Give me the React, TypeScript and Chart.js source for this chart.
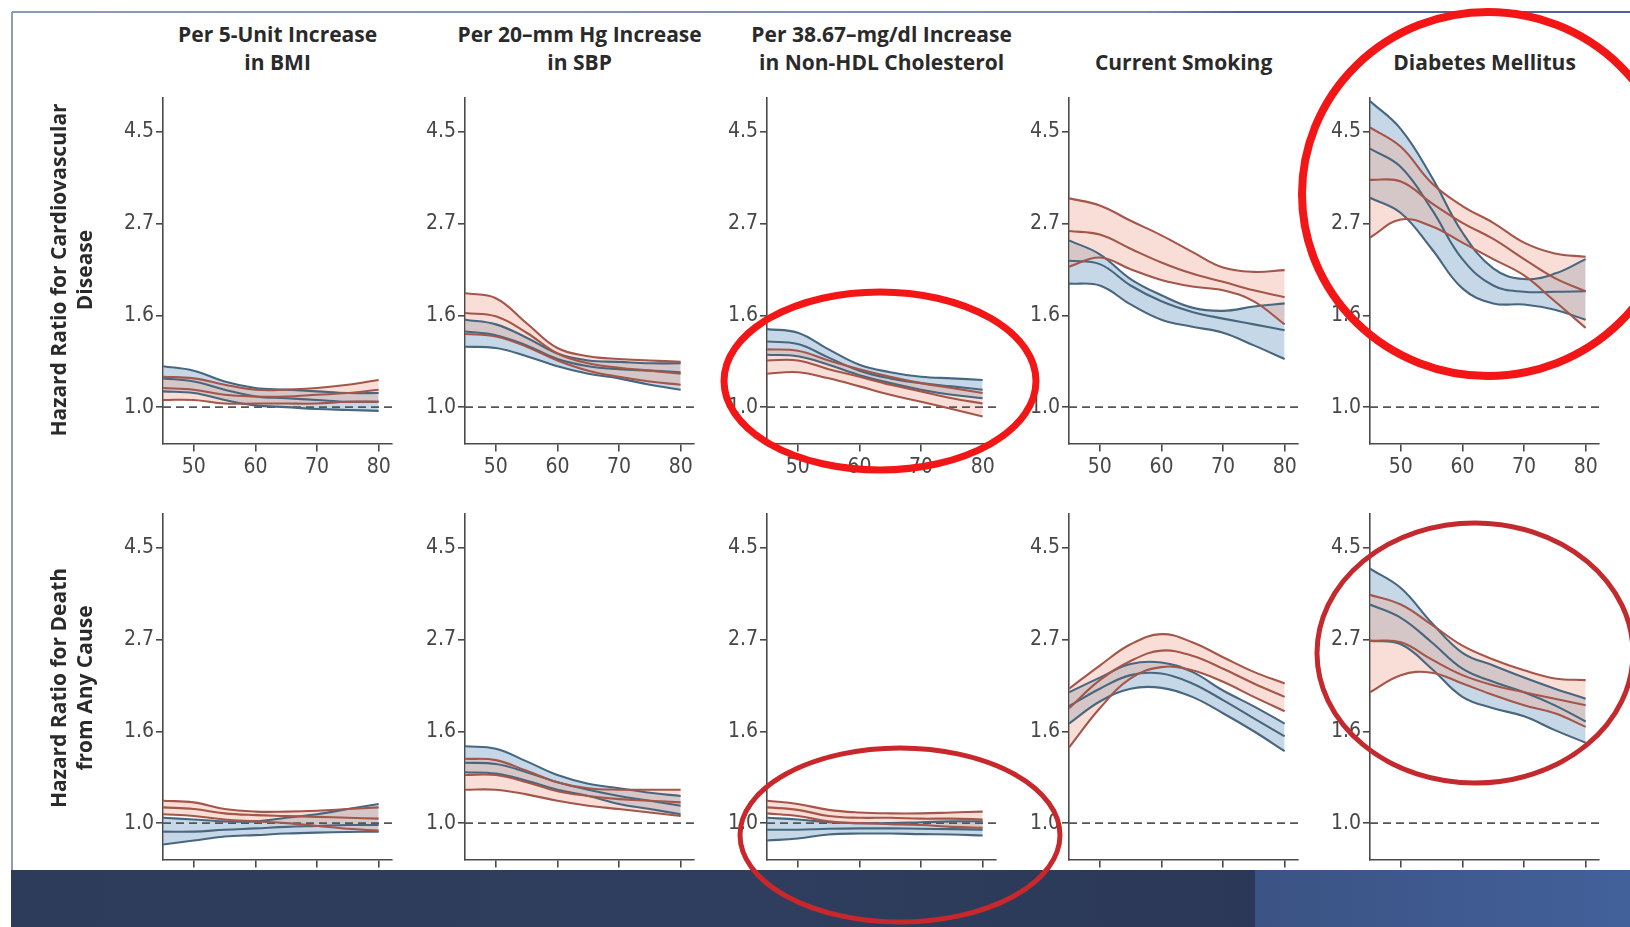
import React, { useEffect, useRef } from "react";
import { Chart, registerables } from "chart.js";
Chart.register(...registerables);

// ---------- data ----------
const ages = [45, 50, 55, 60, 65, 70, 75, 80];
const xTickValues = [50, 60, 70, 80];
const yTickValues = [1.0, Math.exp(0.5), Math.exp(1), Math.exp(1.5)];
const yTickLabels = ["1.0", "1.6", "2.7", "4.5"];

const columnTitles = [
  ["Per 5-Unit Increase", "in BMI"],
  ["Per 20–mm Hg Increase", "in SBP"],
  ["Per 38.67–mg/dl Increase", "in Non-HDL Cholesterol"],
  ["Current Smoking"],
  ["Diabetes Mellitus"],
];
const rowTitles = [
  ["Hazard Ratio for Cardiovascular", "Disease"],
  ["Hazard Ratio for Death", "from Any Cause"],
];

// Row 1: cardiovascular disease
const cvdBmiBlueHi = [1.25, 1.22, 1.15, 1.11, 1.1, 1.09, 1.08, 1.08];
const cvdBmiBlueMid = [1.17, 1.15, 1.1, 1.06, 1.05, 1.04, 1.03, 1.03];
const cvdBmiBlueLo = [1.09, 1.08, 1.04, 1.01, 1.0, 0.99, 0.985, 0.98];
const cvdBmiRedHi = [1.18, 1.17, 1.13, 1.1, 1.1, 1.11, 1.13, 1.16];
const cvdBmiRedMid = [1.11, 1.1, 1.07, 1.06, 1.06, 1.07, 1.08, 1.1];
const cvdBmiRedLo = [1.04, 1.04, 1.02, 1.02, 1.02, 1.02, 1.03, 1.03];

const cvdSbpBlueHi = [1.61, 1.57, 1.46, 1.34, 1.29, 1.28, 1.27, 1.27];
const cvdSbpBlueMid = [1.51, 1.48, 1.4, 1.3, 1.25, 1.23, 1.22, 1.21];
const cvdSbpBlueLo = [1.39, 1.38, 1.32, 1.25, 1.2, 1.17, 1.13, 1.1];
const cvdSbpRedHi = [1.86, 1.81, 1.58, 1.38, 1.32, 1.3, 1.29, 1.28];
const cvdSbpRedMid = [1.67, 1.64, 1.5, 1.34, 1.27, 1.24, 1.22, 1.2];
const cvdSbpRedLo = [1.49, 1.47, 1.39, 1.29, 1.22, 1.18, 1.15, 1.13];

const cvdHdlBlueHi = [1.53, 1.5, 1.37, 1.26, 1.21, 1.18, 1.17, 1.16];
const cvdHdlBlueMid = [1.43, 1.41, 1.31, 1.22, 1.17, 1.14, 1.12, 1.1];
const cvdHdlBlueLo = [1.33, 1.32, 1.26, 1.19, 1.14, 1.1, 1.07, 1.05];
const cvdHdlRedHi = [1.37, 1.36, 1.29, 1.23, 1.18, 1.14, 1.11, 1.08];
const cvdHdlRedMid = [1.29, 1.29, 1.23, 1.18, 1.13, 1.09, 1.05, 1.02];
const cvdHdlRedLo = [1.2, 1.21, 1.17, 1.12, 1.07, 1.03, 0.99, 0.95];

const cvdSmokeBlueHi = [2.48, 2.3, 2.01, 1.84, 1.72, 1.69, 1.73, 1.76];
const cvdSmokeBlueMid = [2.22, 2.18, 1.94, 1.78, 1.68, 1.62, 1.57, 1.52];
const cvdSmokeBlueLo = [1.96, 1.94, 1.75, 1.61, 1.55, 1.5, 1.4, 1.3];
const cvdSmokeRedHi = [3.12, 3.0, 2.76, 2.55, 2.33, 2.14, 2.09, 2.11];
const cvdSmokeRedMid = [2.61, 2.56, 2.37, 2.2, 2.07, 1.98, 1.89, 1.82];
const cvdSmokeRedLo = [2.15, 2.26, 2.12, 2.0, 1.93, 1.89, 1.78, 1.57];

const cvdDmBlueHi = [5.3, 4.55, 3.51, 2.59, 2.13, 2.01, 2.07, 2.24];
const cvdDmBlueMid = [4.09, 3.7, 2.94, 2.24, 1.94, 1.875, 1.875, 1.88];
const cvdDmBlueLo = [3.13, 2.88, 2.37, 1.91, 1.76, 1.75, 1.7, 1.61];
const cvdDmRedHi = [4.59, 4.13, 3.39, 2.99, 2.73, 2.45, 2.31, 2.27];
const cvdDmRedMid = [3.45, 3.42, 3.04, 2.73, 2.5, 2.24, 2.02, 1.88];
const cvdDmRedLo = [2.52, 2.78, 2.68, 2.45, 2.24, 2.05, 1.78, 1.54];

// Row 2: death from any cause
const deathBmiBlueHi = [1.03, 1.02, 1.01, 1.01, 1.03, 1.05, 1.08, 1.11];
const deathBmiBlueMid = [0.955, 0.955, 0.965, 0.972, 0.98, 0.985, 0.99, 0.99];
const deathBmiBlueLo = [0.89, 0.91, 0.93, 0.937, 0.945, 0.95, 0.953, 0.955];
const deathBmiRedHi = [1.13, 1.12, 1.08, 1.065, 1.065, 1.07, 1.08, 1.09];
const deathBmiRedMid = [1.09, 1.08, 1.055, 1.045, 1.04, 1.035, 1.03, 1.025];
const deathBmiRedLo = [1.05, 1.04, 1.02, 1.01, 1.0, 0.985, 0.97, 0.96];

const deathSbpBlueHi = [1.52, 1.5, 1.4, 1.3, 1.24, 1.21, 1.18, 1.16];
const deathSbpBlueMid = [1.39, 1.38, 1.32, 1.25, 1.2, 1.16, 1.13, 1.1];
const deathSbpBlueLo = [1.32, 1.31, 1.26, 1.2, 1.16, 1.11, 1.08, 1.05];
const deathSbpRedHi = [1.42, 1.41, 1.33, 1.25, 1.21, 1.2, 1.2, 1.2];
const deathSbpRedMid = [1.3, 1.3, 1.25, 1.19, 1.16, 1.14, 1.13, 1.12];
const deathSbpRedLo = [1.2, 1.2, 1.17, 1.13, 1.1, 1.08, 1.06, 1.04];

const deathHdlBlueHi = [1.03, 1.02, 1.005, 1.0, 1.0, 1.005, 1.01, 1.01];
const deathHdlBlueMid = [0.965, 0.965, 0.97, 0.972, 0.972, 0.97, 0.968, 0.965];
const deathHdlBlueLo = [0.91, 0.92, 0.94, 0.945, 0.945, 0.942, 0.94, 0.935];
const deathHdlRedHi = [1.13, 1.11, 1.075, 1.06, 1.055, 1.055, 1.06, 1.065];
const deathHdlRedMid = [1.09, 1.075, 1.04, 1.03, 1.03, 1.025, 1.025, 1.02];
const deathHdlRedLo = [1.055, 1.04, 1.01, 1.0, 0.995, 0.99, 0.98, 0.975];

const deathSmokeBlueHi = [2.04, 2.21, 2.38, 2.4, 2.28, 2.06, 1.89, 1.72];
const deathSmokeBlueMid = [1.89, 2.08, 2.24, 2.26, 2.14, 1.955, 1.77, 1.605];
const deathSmokeBlueLo = [1.72, 1.94, 2.08, 2.09, 1.99, 1.82, 1.65, 1.48];
const deathSmokeRedHi = [2.08, 2.36, 2.65, 2.8, 2.68, 2.47, 2.28, 2.14];
const deathSmokeRedMid = [1.87, 2.18, 2.42, 2.56, 2.49, 2.32, 2.14, 1.99];
const deathSmokeRedLo = [1.51, 1.87, 2.2, 2.34, 2.3, 2.16, 1.99, 1.84];

const deathDmBlueHi = [4.0, 3.6, 2.98, 2.53, 2.36, 2.21, 2.08, 1.97];
const deathDmBlueMid = [3.29, 3.06, 2.68, 2.32, 2.16, 2.04, 1.9, 1.74];
const deathDmBlueLo = [2.7, 2.65, 2.32, 1.99, 1.87, 1.79, 1.66, 1.55];
const deathDmRedHi = [3.47, 3.29, 2.95, 2.63, 2.44, 2.3, 2.2, 2.18];
const deathDmRedMid = [2.7, 2.68, 2.44, 2.24, 2.12, 2.04, 1.97, 1.9];
const deathDmRedLo = [2.04, 2.24, 2.27, 2.14, 2.01, 1.9, 1.82, 1.69];

const panelSeries = [
  [
    { blue: [cvdBmiBlueHi, cvdBmiBlueMid, cvdBmiBlueLo], red: [cvdBmiRedHi, cvdBmiRedMid, cvdBmiRedLo] },
    { blue: [cvdSbpBlueHi, cvdSbpBlueMid, cvdSbpBlueLo], red: [cvdSbpRedHi, cvdSbpRedMid, cvdSbpRedLo] },
    { blue: [cvdHdlBlueHi, cvdHdlBlueMid, cvdHdlBlueLo], red: [cvdHdlRedHi, cvdHdlRedMid, cvdHdlRedLo] },
    { blue: [cvdSmokeBlueHi, cvdSmokeBlueMid, cvdSmokeBlueLo], red: [cvdSmokeRedHi, cvdSmokeRedMid, cvdSmokeRedLo] },
    { blue: [cvdDmBlueHi, cvdDmBlueMid, cvdDmBlueLo], red: [cvdDmRedHi, cvdDmRedMid, cvdDmRedLo] },
  ],
  [
    { blue: [deathBmiBlueHi, deathBmiBlueMid, deathBmiBlueLo], red: [deathBmiRedHi, deathBmiRedMid, deathBmiRedLo] },
    { blue: [deathSbpBlueHi, deathSbpBlueMid, deathSbpBlueLo], red: [deathSbpRedHi, deathSbpRedMid, deathSbpRedLo] },
    { blue: [deathHdlBlueHi, deathHdlBlueMid, deathHdlBlueLo], red: [deathHdlRedHi, deathHdlRedMid, deathHdlRedLo] },
    { blue: [deathSmokeBlueHi, deathSmokeBlueMid, deathSmokeBlueLo], red: [deathSmokeRedHi, deathSmokeRedMid, deathSmokeRedLo] },
    { blue: [deathDmBlueHi, deathDmBlueMid, deathDmBlueLo], red: [deathDmRedHi, deathDmRedMid, deathDmRedLo] },
  ],
];

// ---------- styling / layout ----------
const BLUE = "#48677f";
const BLUE_FILL = "rgba(128,168,205,0.45)";
const RED = "#a4564a";
const RED_FILL = "rgba(236,168,148,0.38)";
const AXIS = "#4a4a4a";
const TICK = "#474747";
const TICK_FONT = "'Liberation Sans Narrow', 'DejaVu Sans Condensed', Roboto, sans-serif";
const TITLE_FONT = "'Open Sans', 'Noto Sans', sans-serif";

const AXIS_X = [163, 465, 767, 1069, 1370];
const PLOT_TOP = [93.3, 509.3];
const PLOT_W = 229.2;
const PLOT_H = 350.6;
const Y_W = 70;
const PAD_T = 10;
const CW = 316;
const CH = 406;

function Panel({ row, col }: { row: number; col: number }) {
  const ref = useRef<HTMLCanvasElement>(null);
  useEffect(() => {
    const s = panelSeries[row][col];
    const pts = (arr: number[]) => ages.map((a, i) => ({ x: a, y: arr[i] }));
    const line = (arr: number[], color: string, fillColor?: string) => ({
      data: pts(arr),
      borderColor: color,
      borderWidth: 2.1,
      pointRadius: 0,
      tension: 0.4,
      fill: fillColor ? { target: "+2" } : false,
      backgroundColor: fillColor || "transparent",
    });
    const chart = new Chart(ref.current!, {
      type: "line",
      data: {
        datasets: [
          line(s.red[0], RED, RED_FILL),
          line(s.red[1], RED),
          line(s.red[2], RED),
          line(s.blue[0], BLUE, BLUE_FILL),
          line(s.blue[1], BLUE),
          line(s.blue[2], BLUE),
          {
            data: [{ x: 45, y: 1 }, { x: 82.2, y: 1 }],
            borderColor: "#555",
            borderDash: [8, 5],
            borderWidth: 1.7,
            pointRadius: 0,
            fill: false,
          },
        ] as any,
      },
      options: {
        animation: false,
        responsive: false,
        maintainAspectRatio: false,
        layout: {
          padding: { left: 0, top: PAD_T, right: CW - Y_W - PLOT_W, bottom: 0 },
          autoPadding: false,
        } as any,
        plugins: {
          legend: { display: false },
          tooltip: { enabled: false },
          filler: { drawTime: "beforeDatasetsDraw" },
        } as any,
        scales: {
          x: {
            type: "linear",
            min: 45,
            max: 82.2,
            border: { display: true, color: AXIS, width: 1.6 },
            grid: { display: true, drawOnChartArea: false, drawTicks: true, tickLength: 8, color: AXIS, lineWidth: 1.6 },
            ticks: { autoSkip: false, maxRotation: 0, padding: 3, color: TICK, font: { family: TICK_FONT, size: 21 } },
            afterBuildTicks: (sc: any) => {
              sc.ticks = xTickValues.map((v) => ({ value: v }));
            },
            afterFit: (sc: any) => {
              sc.height = CH - PAD_T - PLOT_H;
            },
          },
          y: {
            type: "logarithmic",
            min: 0.82,
            max: 5.4,
            border: { display: true, color: AXIS, width: 1.6 },
            grid: { display: true, drawOnChartArea: false, drawTicks: true, tickLength: 7, color: AXIS, lineWidth: 1.6 },
            ticks: {
              autoSkip: false,
              padding: 2,
              color: TICK,
              font: { family: TICK_FONT, size: 21 },
              callback: (_v: any, i: number) => yTickLabels[i],
            },
            afterBuildTicks: (sc: any) => {
              sc.ticks = yTickValues.map((v) => ({ value: v }));
            },
            afterFit: (sc: any) => {
              sc.width = Y_W;
            },
          },
        } as any,
      },
    });
    return () => chart.destroy();
  }, [row, col]);
  return (
    <canvas
      ref={ref}
      width={CW}
      height={CH}
      style={{ position: "absolute", left: AXIS_X[col] - Y_W, top: PLOT_TOP[row] - PAD_T, width: CW, height: CH }}
    />
  );
}

export default function App() {
  const panels = [];
  for (let r = 0; r < 2; r++) for (let c = 0; c < 5; c++) panels.push(<Panel key={r + "-" + c} row={r} col={c} />);
  return (
    <div style={{ position: "absolute", left: 0, top: 0, width: 1630, height: 927, overflow: "hidden", background: "#fff" }}>
      {/* slide frame */}
      <div style={{ position: "absolute", left: 12, top: 11, width: 1618, height: 2, background: "linear-gradient(90deg,#8a9aba,#7a8cb0 70%,#4f6490 76%,#4f6490)" }} />
      <div style={{ position: "absolute", left: 11, top: 12, width: 2, height: 860, background: "#8c9cc0" }} />
      {panels}
      {columnTitles.map((t, c) => (
        <div
          key={"ct" + c}
          style={{
            position: "absolute",
            left: AXIS_X[c] + PLOT_W / 2 - 160,
            width: 320,
            top: t.length === 2 ? 20 : 48,
            textAlign: "center",
            fontFamily: TITLE_FONT,
            fontWeight: 700,
            fontSize: 21,
            lineHeight: "28px",
            color: "#2a2a2a",
            whiteSpace: "nowrap",
          }}
        >
          {t.map((l, i) => (
            <div key={i}>{l}</div>
          ))}
        </div>
      ))}
      {rowTitles.map((t, r) => (
        <div
          key={"rt" + r}
          style={{
            position: "absolute",
            left: 71 - 200,
            top: (r === 0 ? 270 : 688) - 26,
            width: 400,
            height: 52,
            transform: "rotate(-90deg)",
            transformOrigin: "50% 50%",
            textAlign: "center",
            fontFamily: TITLE_FONT,
            fontWeight: 700,
            fontSize: 21,
            lineHeight: "26px",
            color: "#2a2a2a",
            whiteSpace: "nowrap",
          }}
        >
          {t.map((l, i) => (
            <div key={i}>{l}</div>
          ))}
        </div>
      ))}
      {/* bottom band */}
      <div style={{ position: "absolute", left: 11, top: 870, width: 1244, height: 57, background: "linear-gradient(90deg,#2e3c5b,#2f3e5e 60%,#2b3857)" }} />
      <div style={{ position: "absolute", left: 1255, top: 870, width: 375, height: 57, background: "linear-gradient(90deg,#3b5384,#42609a)" }} />
      {/* hand-drawn annotation ellipses */}
      <svg width={1630} height={927} style={{ position: "absolute", left: 0, top: 0, pointerEvents: "none" }}>
        <ellipse cx={880} cy={381} rx={156} ry={89} fill="none" stroke="#f21616" strokeWidth={7} />
        <ellipse cx={1488} cy={194} rx={186} ry={182} fill="none" stroke="#f21616" strokeWidth={8} />
        <ellipse cx={900} cy={835} rx={160} ry={87} fill="none" stroke="#c8282b" strokeWidth={5} />
        <ellipse cx={1475} cy={653} rx={158} ry={130} fill="none" stroke="#c42a2d" strokeWidth={5} />
      </svg>
    </div>
  );
}
